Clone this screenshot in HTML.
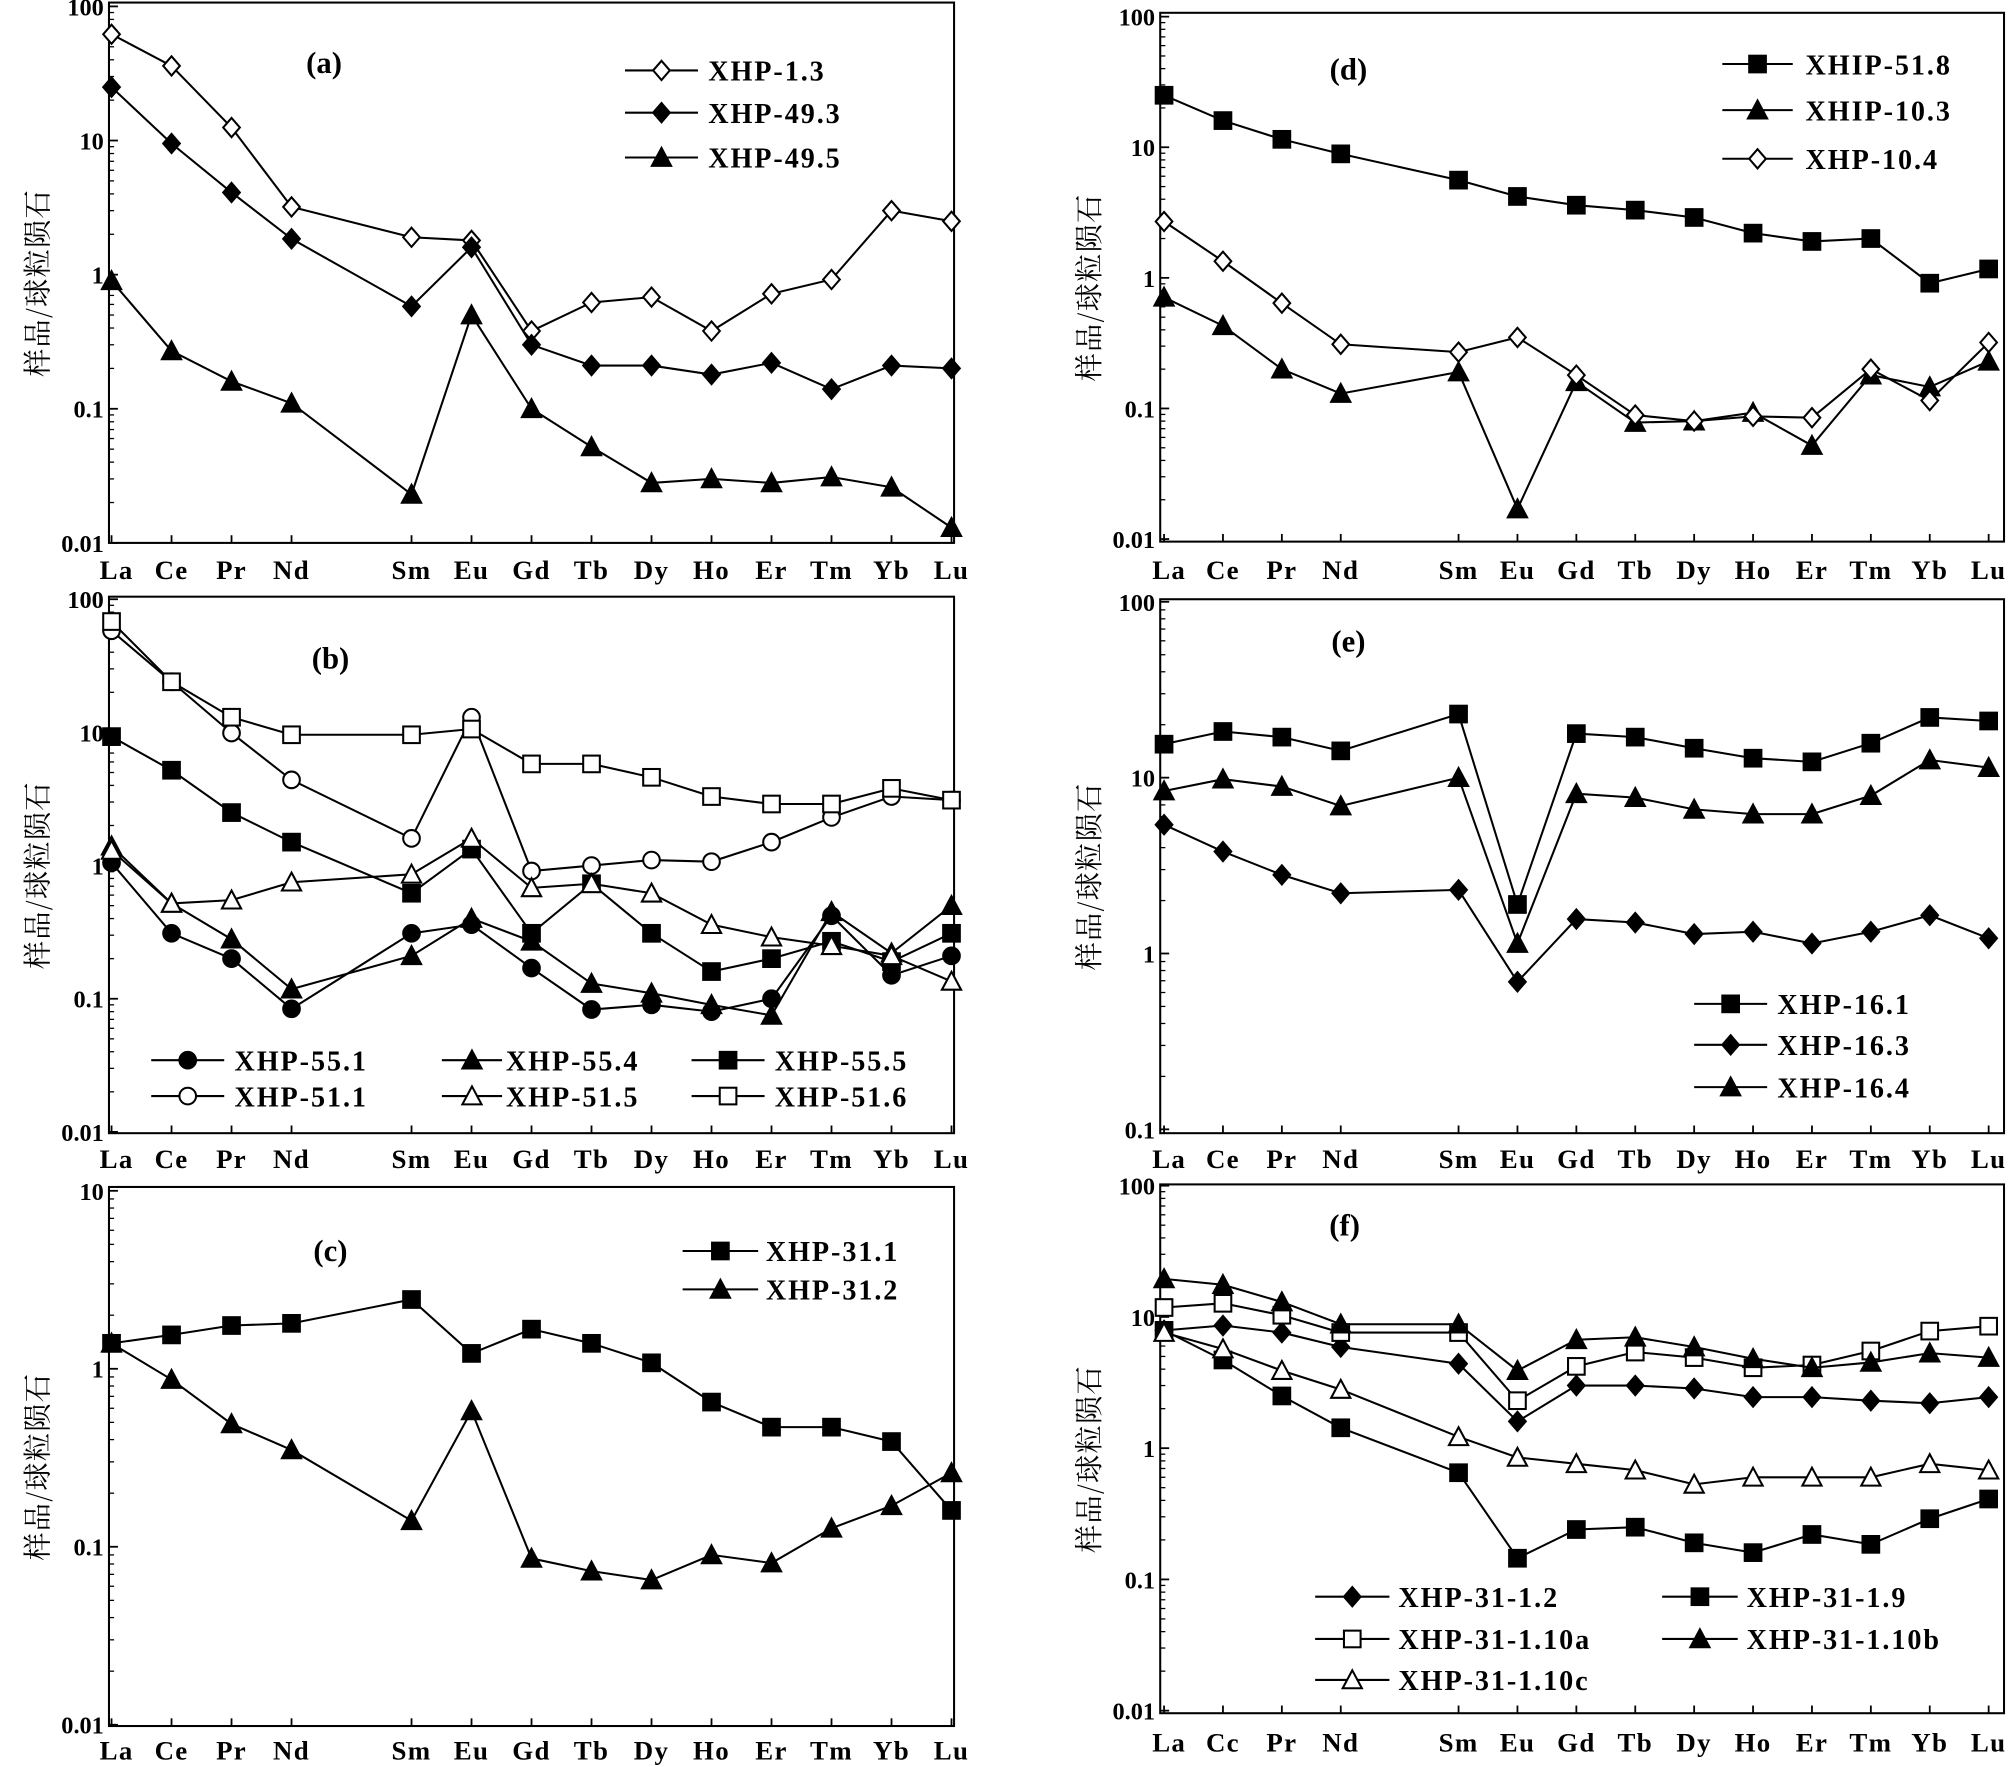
<!DOCTYPE html>
<html><head><meta charset="utf-8"><style>
html,body{margin:0;padding:0;background:#fff;}
svg{display:block;}
text{font-family:"Liberation Serif","Noto Serif CJK SC",serif;font-weight:bold;fill:#000;}
.cjk{font-family:"Noto Serif CJK SC","Noto Sans CJK SC",serif;font-weight:normal;}
</style></head><body>
<svg id="chart" width="2008" height="1767" viewBox="0 0 1568 1380" xmlns="http://www.w3.org/2000/svg"></svg>
<script>
const elements = ["La","Ce","Pr","Nd","Sm","Eu","Gd","Tb","Dy","Ho","Er","Tm","Yb","Lu"];
const elementSlots = [0,1,2,3,5,6,7,8,9,10,11,12,13,14];
const ticksA = [100,10,1,0.1,0.01];
const ticksC = [10,1,0.1,0.01];
const ticksE = [100,10,1,0.1];
const tickLabels = {100:"100",10:"10",1:"1",0.1:"0.1",0.01:"0.01"};

const a_1_3 = [62,36,12.5,3.2,1.9,1.8,0.38,0.62,0.68,0.38,0.72,0.92,3.0,2.5];
const a_49_3 = [25,9.5,4.1,1.85,0.58,1.6,0.30,0.21,0.21,0.18,0.22,0.14,0.21,0.20];
const a_49_5 = [0.9,0.27,0.16,0.11,0.023,0.5,0.10,0.052,0.028,0.030,0.028,0.031,0.026,0.013];

const b_55_1 = [1.05,0.31,0.2,0.084,0.31,0.36,0.17,0.083,0.09,0.08,0.1,0.42,0.15,0.21];
const b_55_4 = [1.4,0.52,0.28,0.118,0.21,0.4,0.27,0.13,0.11,0.09,0.075,0.45,0.22,0.5];
const b_55_5 = [9.3,5.2,2.5,1.5,0.62,1.33,0.31,0.73,0.31,0.16,0.2,0.27,0.19,0.31];
const b_51_1 = [58,24,9.9,4.4,1.6,13,0.91,1.0,1.1,1.07,1.5,2.3,3.3,3.1];
const b_51_5 = [1.3,0.52,0.55,0.75,0.86,1.6,0.68,0.73,0.62,0.36,0.29,0.25,0.21,0.135];
const b_51_6 = [68,24,13,9.6,9.6,10.6,5.8,5.8,4.6,3.3,2.9,2.9,3.8,3.1];

const c_31_1 = [1.39,1.55,1.75,1.8,2.45,1.22,1.67,1.39,1.08,0.65,0.47,0.47,0.39,0.16];
const c_31_2 = [1.39,0.87,0.49,0.35,0.14,0.58,0.086,0.073,0.065,0.09,0.081,0.127,0.17,0.26];

const d_51_8 = [25,16,11.5,8.9,5.6,4.2,3.6,3.3,2.9,2.2,1.9,2.0,0.91,1.17];
const d_10_3 = [0.71,0.43,0.2,0.13,0.19,0.017,0.16,0.078,0.08,0.093,0.052,0.18,0.146,0.23];
const d_10_4 = [2.7,1.34,0.64,0.31,0.27,0.35,0.18,0.089,0.08,0.087,0.085,0.2,0.115,0.32];

const e_16_1 = [15.5,18.3,17,14.2,23,1.9,17.8,17,14.7,12.9,12.3,15.7,22,21];
const e_16_3 = [5.4,3.8,2.8,2.2,2.3,0.69,1.57,1.5,1.29,1.33,1.14,1.33,1.65,1.22];
const e_16_4 = [8.4,9.8,8.9,6.9,10,1.14,8.1,7.7,6.6,6.2,6.2,7.9,12.6,11.4];

const f_1_2 = [7.9,8.6,7.6,5.9,4.4,1.6,3.0,3.0,2.85,2.45,2.45,2.3,2.2,2.45];
const f_1_9 = [7.9,4.7,2.5,1.43,0.65,0.145,0.24,0.25,0.19,0.16,0.22,0.185,0.29,0.41];
const f_1_10a = [11.8,12.7,10.3,7.6,7.6,2.3,4.2,5.4,4.9,4.1,4.3,5.5,7.8,8.5];
const f_1_10b = [19.5,17.6,13,8.8,8.8,3.9,6.7,7.0,5.9,4.8,4.1,4.5,5.3,4.9];
const f_1_10c = [7.6,5.7,3.9,2.8,1.22,0.85,0.76,0.68,0.53,0.6,0.6,0.6,0.76,0.68];

const NS="http://www.w3.org/2000/svg";
const svg=document.getElementById('chart');
function mk(tag,attrs,parent){const e=document.createElementNS(NS,tag);for(const k in attrs)e.setAttribute(k,attrs[k]);(parent||svg).appendChild(e);return e;}

function marker(g,type,x,y){
  const r=6.5;let e;
  const fill=type.startsWith('open')?'#fff':'#000';
  const shape=type.replace('open-','').replace('fill-','');
  if(shape==='diamond') e=mk('polygon',{points:`${x},${y-r-1} ${x+r},${y} ${x},${y+r+1} ${x-r},${y}`,fill:fill,stroke:'#000','stroke-width':1.6},g);
  else if(shape==='square') e=mk('rect',{x:x-r,y:y-r,width:2*r,height:2*r,fill:fill,stroke:'#000','stroke-width':1.6},g);
  else if(shape==='circle') e=mk('circle',{cx:x,cy:y,r:r,fill:fill,stroke:'#000','stroke-width':1.6},g);
  else e=mk('polygon',{points:`${x},${y-r-1} ${x+r+1},${y+r} ${x-r-1},${y+r}`,fill:fill,stroke:'#000','stroke-width':1.6},g);
  
  
  return e;
}

function panel(cfg){
  const g=mk('g',{});
  
  
  const xS=i=>cfg.x0+elementSlots[i]*(cfg.x1-cfg.x0)/14;
  const lmax=Math.log10(cfg.vmax),lmin=Math.log10(cfg.vmin);
  const yS=v=>cfg.yTop+(lmax-Math.log10(v))*(cfg.yBot-cfg.yTop)/(lmax-lmin);
  const box=mk('rect',{x:cfg.bx0,y:cfg.by0,width:cfg.bx1-cfg.bx0,height:cfg.by1-cfg.by0,fill:'none',stroke:'#000','stroke-width':1.6},g);
  
  
  cfg.ticks.forEach(t=>{
    const y=yS(t);
    mk('line',{x1:cfg.bx0,x2:cfg.bx0+7,y1:y,y2:y,stroke:'#000','stroke-width':1.4},g);
    const tx=mk('text',{x:cfg.bx0-4,y:y+7,'text-anchor':'end','font-size':19},g);
    tx.textContent=tickLabels[t];
    
    
    if(t!==cfg.vmin){for(let m=2;m<10;m++){const ym=yS(t/10*m);mk('line',{x1:cfg.bx0,x2:cfg.bx0+4,y1:ym,y2:ym,stroke:'#000','stroke-width':1},g);}}
  });
  elements.forEach((el,i)=>{
    const x=xS(i);
    mk('line',{x1:x,x2:x,y1:cfg.by1,y2:cfg.by1-6,stroke:'#000','stroke-width':1.4},g);
    const tx=mk('text',{x:x+(i===0?4:0),y:cfg.labY,'text-anchor':'middle','font-size':21,'letter-spacing':1},g);
    tx.textContent=(cfg.id==='f'&&el==='Ce')?'Cc':el;
    
    
  });
  const yt=mk('text',{x:0,y:0,'text-anchor':'middle','font-size':22,'letter-spacing':1,class:'cjk',transform:`translate(${cfg.bx0-48},${(cfg.by0+cfg.by1)/2+8}) rotate(-90)`},g);
  yt.textContent='样品/球粒陨石';
  
  
  const pl=mk('text',{x:cfg.letter[0],y:cfg.letter[1],'text-anchor':'middle','font-size':24},g);
  pl.textContent='('+cfg.id+')';
  
  
  cfg.series.forEach(s=>{
    const sg=mk('g',{},g);
    
    
    const pts=s.data.map((v,i)=>xS(i)+','+yS(v)).join(' ');
    mk('polyline',{points:pts,fill:'none',stroke:'#000','stroke-width':1.6},sg);
    s.data.forEach((v,i)=>marker(sg,s.m,xS(i),yS(v)));
    const lg=mk('g',{},g);
    
    
    const [lx0,lx1,ly,tx0]=s.leg;
    mk('line',{x1:lx0,x2:lx1,y1:ly,y2:ly,stroke:'#000','stroke-width':1.6},lg);
    marker(lg,s.m,(lx0+lx1)/2,ly);
    const t=mk('text',{x:tx0,y:ly+8,'font-size':22,'letter-spacing':1.5},lg);
    t.textContent=s.name;
  });
}

const L={x0:87,x1:743,bx0:85,bx1:745};
const R={x0:909,x1:1553,bx0:906,bx1:1565};
panel({id:'a',...L,by0:2,by1:424,yTop:5,yBot:424,vmax:100,vmin:0.01,ticks:ticksA,labY:452,letter:[253,57],series:[
 {name:'XHP-1.3',data:a_1_3,m:'open-diamond',leg:[488,545,55,553]},
 {name:'XHP-49.3',data:a_49_3,m:'fill-diamond',leg:[488,545,88,553]},
 {name:'XHP-49.5',data:a_49_5,m:'fill-tri',leg:[488,545,123,553]}]});
panel({id:'b',...L,by0:466,by1:885,yTop:468,yBot:884,vmax:100,vmin:0.01,ticks:ticksA,labY:912,letter:[258,522],series:[
 {name:'XHP-55.1',data:b_55_1,m:'fill-circle',leg:[118,175,828,183]},
 {name:'XHP-55.4',data:b_55_4,m:'fill-tri',leg:[345,392,828,395]},
 {name:'XHP-55.5',data:b_55_5,m:'fill-square',leg:[540,597,828,605]},
 {name:'XHP-51.1',data:b_51_1,m:'open-circle',leg:[118,175,856,183]},
 {name:'XHP-51.5',data:b_51_5,m:'open-tri',leg:[345,392,856,395]},
 {name:'XHP-51.6',data:b_51_6,m:'open-square',leg:[540,597,856,605]}]});
panel({id:'c',...L,by0:927,by1:1348,yTop:930,yBot:1347,vmax:10,vmin:0.01,ticks:ticksC,labY:1374,letter:[258,985],series:[
 {name:'XHP-31.1',data:c_31_1,m:'fill-square',leg:[533,592,977,598]},
 {name:'XHP-31.2',data:c_31_2,m:'fill-tri',leg:[533,592,1007,598]}]});
panel({id:'d',...R,by0:10,by1:423,yTop:13,yBot:421,vmax:100,vmin:0.01,ticks:ticksA,labY:452,letter:[1053,62],series:[
 {name:'XHIP-51.8',data:d_51_8,m:'fill-square',leg:[1345,1400,50,1410]},
 {name:'XHIP-10.3',data:d_10_3,m:'fill-tri',leg:[1345,1400,86,1410]},
 {name:'XHP-10.4',data:d_10_4,m:'open-diamond',leg:[1345,1400,124,1410]}]});
panel({id:'e',...R,by0:468,by1:885,yTop:470,yBot:882,vmax:100,vmin:0.1,ticks:ticksE,labY:912,letter:[1053,509],series:[
 {name:'XHP-16.1',data:e_16_1,m:'fill-square',leg:[1323,1380,784,1388]},
 {name:'XHP-16.3',data:e_16_3,m:'fill-diamond',leg:[1323,1380,816,1388]},
 {name:'XHP-16.4',data:e_16_4,m:'fill-tri',leg:[1323,1380,849,1388]}]});
panel({id:'f',...R,by0:925,by1:1338,yTop:926,yBot:1336,vmax:100,vmin:0.01,ticks:ticksA,labY:1368,letter:[1050,965],series:[
 {name:'XHP-31-1.2',data:f_1_2,m:'fill-diamond',leg:[1027,1085,1247,1092]},
 {name:'XHP-31-1.9',data:f_1_9,m:'fill-square',leg:[1298,1357,1247,1364]},
 {name:'XHP-31-1.10a',data:f_1_10a,m:'open-square',leg:[1027,1085,1280,1092]},
 {name:'XHP-31-1.10b',data:f_1_10b,m:'fill-tri',leg:[1298,1357,1280,1364]},
 {name:'XHP-31-1.10c',data:f_1_10c,m:'open-tri',leg:[1027,1085,1312,1092]}]});
</script>
</body></html>
